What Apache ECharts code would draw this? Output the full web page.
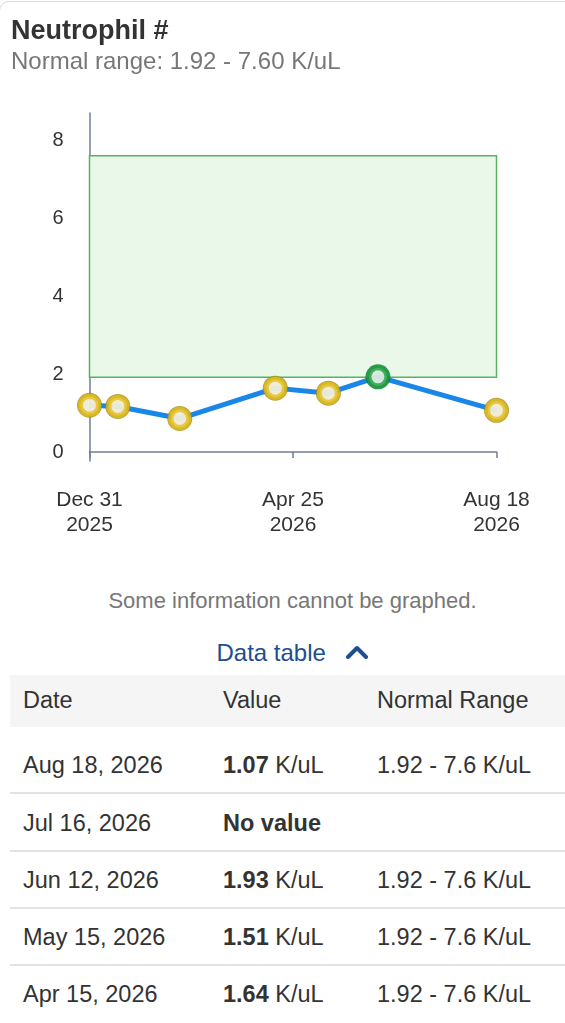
<!DOCTYPE html>
<html>
<head>
<meta charset="utf-8">
<script src="https://cdn.jsdelivr.net/npm/echarts@6/dist/echarts.min.js"></script>
<style>
  html, body { margin: 0; padding: 0; background: #fff; }
  body { width: 565px; height: 1023px; position: relative; overflow: hidden;
         font-family: "Liberation Sans", Arial, Helvetica, sans-serif; color: #333; }
  .card { position: absolute; left: -1px; top: 1px; width: 600px; height: 1100px;
          border: 1px solid #d9d9d9; border-radius: 10px; box-sizing: border-box; }
  .t { position: absolute; white-space: nowrap; }
  #chart { position: absolute; left: 0; top: 0; width: 565px; height: 560px; }
  .hdr { position: absolute; left: 10px; top: 675px; width: 555px; height: 52px; background: #f5f5f5; }
  .sep { position: absolute; left: 10px; width: 555px; height: 2px; background: #e3e3e3; }
</style>
</head>
<body>
<div class="card"></div>
<div id="chart"></div>
<div id="texts"></div>
<script>
// ---- data ----
var title = 'Neutrophil #';
var subtitle = 'Normal range: 1.92 - 7.60 K/uL';
var pointDates = ['2025-12-31', '2026-01-16', '2026-02-20', '2026-04-15', '2026-05-15', '2026-06-12', '2026-08-18'];
var pointValues = [1.20, 1.17, 0.86, 1.64, 1.51, 1.93, 1.07];
var rangeLow = 1.92;
var rangeHigh = 7.6;
var xTickDates = ['2025-12-31', '2026-04-25', '2026-08-18'];
var yTickValues = [0, 2, 4, 6, 8];
var tableDates = ['Aug 18, 2026', 'Jul 16, 2026', 'Jun 12, 2026', 'May 15, 2026', 'Apr 15, 2026'];
var tableValues = ['1.07', null, '1.93', '1.51', '1.64'];
var tableRanges = ['1.92 - 7.6 K/uL', '', '1.92 - 7.6 K/uL', '1.92 - 7.6 K/uL', '1.92 - 7.6 K/uL'];
var unit = 'K/uL';

// ---- helpers ----
var MS_DAY = 86400000;
var origin = Date.UTC(2025, 11, 31);
function dayOf(s) { var p = s.split('-'); return Math.round((Date.UTC(+p[0], +p[1] - 1, +p[2]) - origin) / MS_DAY); }
var MONTHS = ['Jan','Feb','Mar','Apr','May','Jun','Jul','Aug','Sep','Oct','Nov','Dec'];
function fmtDay(d) { var dt = new Date(origin + d * MS_DAY); return MONTHS[dt.getUTCMonth()] + ' ' + dt.getUTCDate() + '\n' + dt.getUTCFullYear(); }

var xs = pointDates.map(dayOf);
var xTicks = xTickDates.map(dayOf);
var pts = xs.map(function (x, i) { return [x, pointValues[i]]; });
function inRange(v) { return v >= rangeLow && v <= rangeHigh; }

var chart = echarts.init(document.getElementById('chart'), null, { renderer: 'canvas' });
chart.setOption({
  animation: false,
  grid: { left: 89.5, top: 113, width: 407, height: 348 },
  xAxis: {
    type: 'value', min: xTicks[0], max: xTicks[xTicks.length - 1], interval: xTicks[1] - xTicks[0],
    axisLine: { show: true, lineStyle: { color: '#6f7f90', width: 1.5 } },
    axisTick: { show: true, length: 6, lineStyle: { color: '#6f7f90', width: 1.5 } },
    splitLine: { show: false },
    axisLabel: { formatter: fmtDay, fontSize: 21, lineHeight: 25, color: '#333', margin: 27,
                 fontFamily: 'Liberation Sans' }
  },
  yAxis: {
    type: 'value', min: -0.23, max: 8.7,
    axisLine: { show: true, lineStyle: { color: '#6f7f90', width: 1.5 } },
    axisTick: { show: false },
    splitLine: { show: false },
    axisLabel: { customValues: yTickValues, fontSize: 20, color: '#333', margin: 26,
                 fontFamily: 'Liberation Sans' }
  },
  series: [
    {
      type: 'line', data: pts, showSymbol: false, symbol: 'none', z: 2,
      lineStyle: { color: '#1a86e8', width: 5 },
      markArea: {
        silent: true,
        itemStyle: { color: '#e9f8e9', borderColor: '#57b45e', borderWidth: 1.5 },
        data: [[{ xAxis: xTicks[0], yAxis: rangeLow }, { xAxis: xTicks[xTicks.length - 1], yAxis: rangeHigh }]]
      }
    },
    {
      type: 'scatter', z: 3, symbolSize: 25,
      data: pts.map(function (p) { return { value: p, itemStyle: { color: inRange(p[1]) ? '#0e7a30' : '#a88b12' } }; })
    },
    {
      type: 'scatter', z: 4, symbolSize: 18,
      data: pts.map(function (p) {
        return { value: p, itemStyle: { color: '#fff', borderWidth: 5, borderColor: inRange(p[1]) ? '#1f9d40' : '#e4bf1c' } };
      })
    }
  ]
});

// ---- text / table ----
var box = document.getElementById('texts');
function txt(html, x, cy, size, opts) {
  opts = opts || {};
  var d = document.createElement('div');
  d.className = 't';
  var lh = Math.round(size * 1.3);
  d.style.top = (cy - lh / 2) + 'px';
  d.style.lineHeight = lh + 'px';
  d.style.fontSize = size + 'px';
  if (opts.center) { d.style.left = (opts.dx || 0) + 'px'; d.style.width = '565px'; d.style.textAlign = 'center'; }
  else d.style.left = x + 'px';
  if (opts.color) d.style.color = opts.color;
  if (opts.bold) d.style.fontWeight = 'bold';
  d.innerHTML = html;
  box.appendChild(d);
  return d;
}
txt(title, 11, 30, 27, { bold: true, color: '#333' });
txt(subtitle, 11, 60, 24, { color: '#777' });
txt('Some information cannot be graphed.', 0, 600, 22, { center: true, color: '#777', dx: 10 });
txt('Data table <svg width="24" height="14" viewBox="0 0 24 14" style="margin-left:12px;vertical-align:2px"><polyline points="3,12 12,3 21,12" fill="none" stroke="#1d4e8f" stroke-width="4" stroke-linecap="round" stroke-linejoin="round"/></svg>',
    0, 652, 24, { center: true, color: '#1d4e8f', dx: 10 });

var hdr = document.createElement('div'); hdr.className = 'hdr'; box.appendChild(hdr);
var colX = [23, 223, 377];
var fs = 23.5;
txt('Date', colX[0], 700, fs);
txt('Value', colX[1], 700, fs);
txt('Normal Range', colX[2], 700, fs);

var rowCenters = [765, 823, 880, 937, 994];
var sepYs = [792, 850, 907, 964];
tableDates.forEach(function (d, i) {
  txt(d, colX[0], rowCenters[i], fs);
  var v = tableValues[i];
  txt(v === null ? '<b>No value</b>' : '<b>' + v + '</b> ' + unit, colX[1], rowCenters[i], fs);
  if (tableRanges[i]) txt(tableRanges[i], colX[2], rowCenters[i], fs);
});
sepYs.forEach(function (y) {
  var s = document.createElement('div'); s.className = 'sep'; s.style.top = y + 'px'; box.appendChild(s);
});
</script>
</body>
</html>
